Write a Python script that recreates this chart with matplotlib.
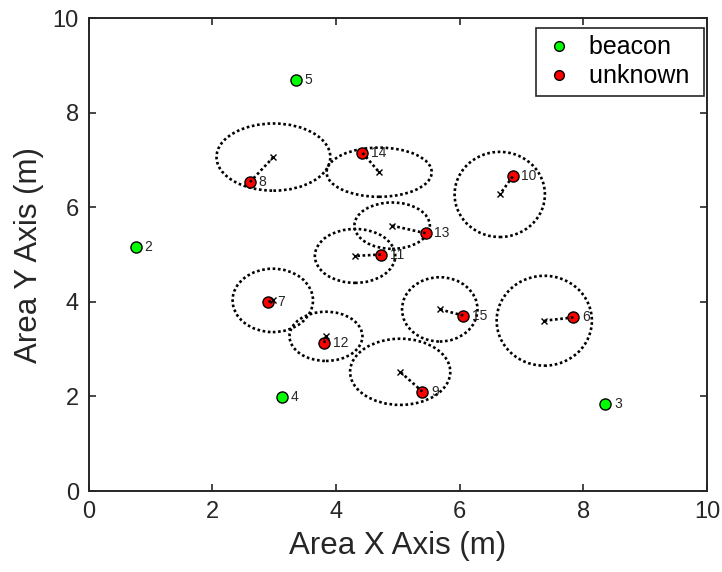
import numpy as np
import matplotlib
matplotlib.use('Agg')
import matplotlib.pyplot as plt
from matplotlib.patches import Ellipse
from matplotlib.lines import Line2D

plt.rcParams['font.family'] = ['Liberation Sans', 'DejaVu Sans']

# 앵커 노드 (beacon) 위치
beacon_id = [2, 3, 4, 5]
beacon_x = [0.76, 8.36, 3.13, 3.35]
beacon_y = [5.16, 1.83, 1.98, 8.70]

# 미지 노드 실제 위치
unknown_id = [6, 7, 8, 9, 10, 11, 12, 13, 14, 15]
unknown_x = [7.84, 2.91, 2.61, 5.40, 6.86, 4.73, 3.81, 5.45, 4.43, 6.06]
unknown_y = [3.67, 4.00, 6.53, 2.10, 6.65, 5.00, 3.13, 5.45, 7.15, 3.71]

# 추정 위치 및 오차 타원 반경
est_x = [7.37, 2.98, 2.99, 5.04, 6.65, 4.31, 3.84, 4.91, 4.70, 5.68]
est_y = [3.60, 4.03, 7.06, 2.52, 6.27, 4.97, 3.27, 5.61, 6.74, 3.84]
rad_x = [0.77, 0.65, 0.92, 0.81, 0.73, 0.65, 0.59, 0.61, 0.85, 0.61]
rad_y = [0.95, 0.67, 0.71, 0.70, 0.90, 0.57, 0.52, 0.49, 0.52, 0.68]

dark = '#262626'
dotted = (0, (1, 1))

fig = plt.figure(figsize=(7.22, 5.72), dpi=100)
ax = fig.add_axes([0.1226, 0.1416, 0.8565, 0.8269])

# 오차 타원
for cx, cy, rx, ry in zip(est_x, est_y, rad_x, rad_y):
    ax.add_patch(Ellipse((cx, cy), 2 * rx, 2 * ry, fill=False, edgecolor='k',
                         linestyle=dotted, linewidth=1.9, zorder=2))

# 노드 마커
ax.plot(beacon_x, beacon_y, 'o', color='#00ff00', markeredgecolor='k',
        markeredgewidth=1.0, markersize=8, zorder=3)
ax.plot(unknown_x, unknown_y, 'o', color='#ff0000', markeredgecolor='k',
        markeredgewidth=1.0, markersize=8, zorder=3)

# 실제 위치 - 추정 위치 연결선
for ux, uy, ex, ey in zip(unknown_x, unknown_y, est_x, est_y):
    ax.plot([ux, ex], [uy, ey], color='k', linestyle=dotted, linewidth=1.9, zorder=4)
ax.plot(est_x, est_y, 'x', color='k', markersize=5, markeredgewidth=1.0, zorder=4)

# 노드 번호
for i, x, y in zip(beacon_id + unknown_id, beacon_x + unknown_x, beacon_y + unknown_y):
    ax.text(x + 0.14, y, str(i), fontsize=10, color=dark, ha='left', va='center', zorder=5)

ax.set_xlim(0, 10)
ax.set_ylim(0, 10)
ax.set_xticks([0, 2, 4, 6, 8, 10])
ax.set_yticks([0, 2, 4, 6, 8, 10])
ax.tick_params(direction='in', top=True, right=True, length=5, width=1.2,
               labelsize=17, colors=dark, pad=7)
for s in ax.spines.values():
    s.set_linewidth(1.4)
    s.set_color(dark)

ax.set_xlabel('Area X Axis (m)', fontsize=22.5, color=dark, labelpad=6)
ax.set_ylabel('Area Y Axis (m)', fontsize=22.5, color=dark, labelpad=6)

handles = [
    Line2D([], [], linestyle='none', marker='o', color='#00ff00', markeredgecolor='k', markersize=7),
    Line2D([], [], linestyle='none', marker='o', color='#ff0000', markeredgecolor='k', markersize=7),
]
leg = ax.legend(handles, ['beacon ', 'unknown '], loc='upper right', bbox_to_anchor=(0.995, 0.979),
                borderaxespad=0, fontsize=18, fancybox=False, framealpha=1,
                handlelength=1.2, handletextpad=0.6, borderpad=0.3, labelspacing=0.2)
leg.get_frame().set_edgecolor(dark)
leg.get_frame().set_linewidth(1.2)

plt.savefig('out.png', dpi=100)
